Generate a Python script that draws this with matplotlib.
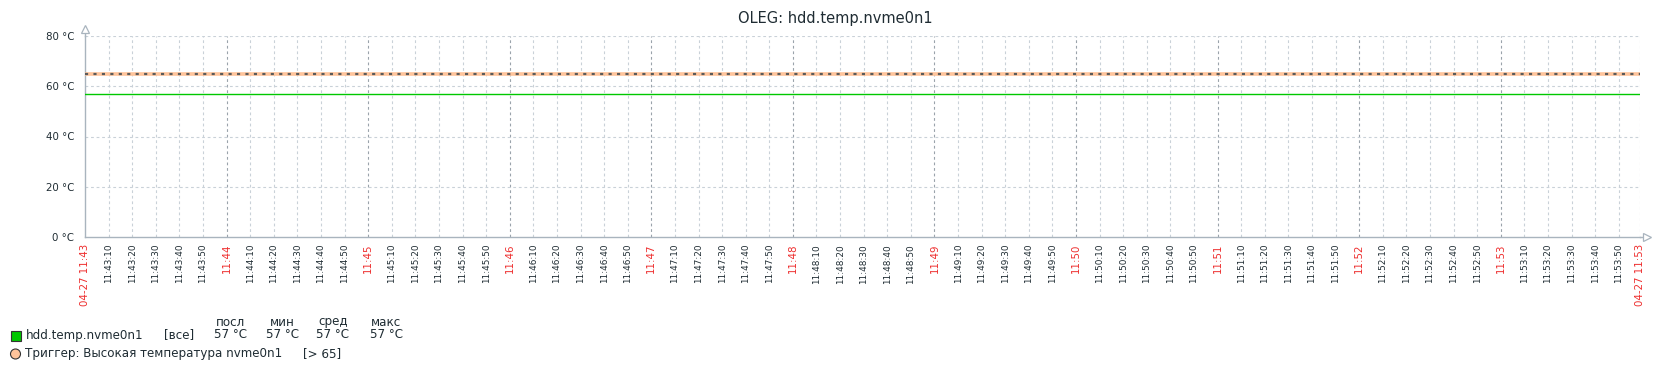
import datetime as dt
import matplotlib
matplotlib.use("Agg")
from matplotlib import pyplot as plt
from matplotlib.patches import Rectangle, Ellipse
import pandas as pd

plt.rcParams['font.family'] = ['DejaVu Sans']

title = "OLEG: hdd.temp.nvme0n1"
day = "2024-04-27"
t_start = "11:43:00"
t_end = "11:53:59"
# item samples (value did not change over the period)
sample_times = ["11:43:00", "11:44:00", "11:45:00", "11:46:00", "11:47:00", "11:48:00",
                "11:49:00", "11:50:00", "11:51:00", "11:52:00", "11:53:00", "11:53:59"]
temps = [57, 57, 57, 57, 57, 57, 57, 57, 57, 57, 57, 57]
trigger_value = 65
y_ticks = [0, 20, 40, 60, 80]
item_name = "hdd.temp.nvme0n1"
stat_names = ["посл", "мин", "сред", "макс"]
stat_values = ["57 °C", "57 °C", "57 °C", "57 °C"]
trigger_label = "Триггер: Высокая температура nvme0n1"
trigger_cond = "[> 65]"

W, H = 1671, 368
TXT = "#1f2c33"
RED = "#ee2e2e"
AXC = "#a9b4be"

def ts(s):
    return pd.Timestamp(day + " " + s)

x0, x1 = ts(t_start), ts(t_end)
xs = [ts(s) for s in sample_times]

fig = plt.figure(figsize=(W / 100, H / 100), dpi=100)
ax = fig.add_axes([85 / W, 1 - 237 / H, (1640 - 85) / W, 201 / H])

ax.set_xlim(x0, x1)
ax.set_ylim(0, 80)

# grid lines
minor = [t for t in pd.date_range(x0, x1, freq="10s") if t.second != 0]
major = [x0] + list(pd.date_range(ts("11:44:00"), ts("11:53:00"), freq="min")) + [x1]
for t in minor + [x1]:
    ax.axvline(t, color="#c9d1d8", lw=0.8, ls=(0, (2.5, 2.5)), zorder=1)
for t in major[1:-1]:
    ax.axvline(t, color="#9aa3ab", lw=0.8, ls=(0, (2.5, 2.5)), zorder=1)
for y in y_ticks[1:]:
    ax.axhline(y, color="#c9d1d8", lw=0.8, ls=(0, (2.5, 2.5)), zorder=1)

# data
ax.plot(xs, temps, color="#00c800", lw=1.0, zorder=3)
ax.axhline(trigger_value, color="#ffc49b", lw=2.6, zorder=4)
ax.axhline(trigger_value, color="#5a5a5a", lw=1.6, ls=(0, (1.4, 2.4)), zorder=5)

# axes
for s in ["top", "right"]:
    ax.spines[s].set_visible(False)
for s in ["left", "bottom"]:
    ax.spines[s].set_color(AXC)
    ax.spines[s].set_linewidth(1.0)
ax.plot([0, 0], [1, 1.015], color=AXC, lw=1.0, transform=ax.transAxes, clip_on=False)
ax.plot([0], [1.035], marker="^", ms=6, mfc="white", mec=AXC, mew=0.9,
        transform=ax.transAxes, clip_on=False)
ax.plot([1, 1.002], [0, 0], color=AXC, lw=1.0, transform=ax.transAxes, clip_on=False)
ax.plot([1.0045], [0], marker=">", ms=6, mfc="white", mec=AXC, mew=0.9,
        transform=ax.transAxes, clip_on=False)

ax.set_yticks(y_ticks)
ax.set_yticklabels(["%d °C" % v for v in y_ticks], fontsize=7.4, color=TXT)
ax.tick_params(axis="y", length=0, pad=8)

ax.set_xticks(major)
ax.set_xticklabels(
    [x0.strftime("%m-%d %H:%M")] + [t.strftime("%H:%M") for t in major[1:-1]]
    + [x1.strftime("%m-%d %H:%M")],
    rotation=90, fontsize=7.4, color=RED)
ax.set_xticks(minor, minor=True)
ax.set_xticklabels([t.strftime("%H:%M:%S") for t in minor], minor=True,
                   rotation=90, fontsize=6.4, color=TXT)
ax.tick_params(axis="x", which="both", length=0, pad=5)

fig.text(0.5, 1 - 18 / H, title, ha="center", va="center", fontsize=10.5, color=TXT)

# legend
def fx(px):
    return px / W

def fy(py):
    return 1 - py / H

FS = 8.6
cols = [230, 282, 333, 386]
for cx, name, val in zip(cols, stat_names, stat_values):
    fig.text(fx(cx), fy(322), name, ha="center", va="center", fontsize=FS, color=TXT)
    fig.text(fx(cx), fy(335), val, ha="center", va="center", fontsize=FS, color=TXT)
fig.patches.append(Rectangle((fx(10.5), fy(340.5)), 10 / W, 10 / H, transform=fig.transFigure,
                             facecolor="#00c800", edgecolor="#333333", lw=0.8))
fig.text(fx(26), fy(335), item_name, ha="left", va="center", fontsize=FS, color=TXT)
fig.text(fx(164), fy(335), "[все]", ha="left", va="center", fontsize=FS, color=TXT)
fig.patches.append(Ellipse((fx(15.5), fy(354)), 10 / W, 10 / H, transform=fig.transFigure,
                           facecolor="#ffc49b", edgecolor="#333333", lw=0.8))
fig.text(fx(25), fy(354), trigger_label, ha="left", va="center", fontsize=FS, color=TXT)
fig.text(fx(303), fy(354), trigger_cond, ha="left", va="center", fontsize=FS, color=TXT)

fig.savefig("out.png", dpi=100)
